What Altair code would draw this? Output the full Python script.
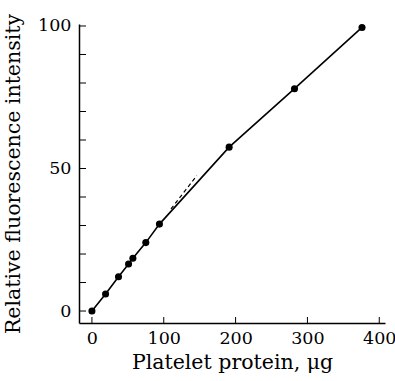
import altair as alt
import pandas as pd

protein = [0, 19, 37, 51, 57, 75, 94, 191, 282, 376]
intensity = [0, 6, 12, 16.5, 18.5, 24, 30.5, 57.5, 78, 99.5]
dash_x = [110, 146]
dash_y = [35.8, 47.5]
x_ticks = [0, 100, 200, 300, 400]
y_ticks = [0, 10, 20, 30, 40, 50, 60, 70, 80, 90, 100]
y_labels = [0, 50, 100]

W, H = 306, 299
xdom = [-18, 408]
ydom = [-4.2, 100.7]
FONT = "DejaVu Serif"

df = pd.DataFrame({"x": protein, "y": intensity})
dd = pd.DataFrame({"x": dash_x, "y": dash_y})
xt = pd.DataFrame({"v": x_ticks})
yt = pd.DataFrame({"v": y_ticks})

xs = alt.Scale(domain=xdom, nice=False, zero=False)
ys = alt.Scale(domain=ydom, nice=False, zero=False)

xax = alt.Axis(values=x_ticks, ticks=False, grid=False, domainColor="black", domainWidth=1.5,
               labelFont=FONT, labelFontSize=17.5, labelColor="black", labelPadding=6,
               title="Platelet protein, μg", titleFont=FONT, titleFontSize=20.5,
               titleFontWeight="normal", titleColor="black", titlePadding=6)
yax = alt.Axis(values=y_labels, ticks=False, grid=False, domainColor="black", domainWidth=1.5,
               labelFont=FONT, labelFontSize=17.5, labelColor="black", labelPadding=8,
               title="Relative fluorescence intensity", titleFont=FONT, titleFontSize=20.5,
               titleFontWeight="normal", titleColor="black", titlePadding=14)

line = alt.Chart(df).mark_line(color="black", strokeWidth=1.6).encode(
    x=alt.X("x:Q", scale=xs, axis=xax), y=alt.Y("y:Q", scale=ys, axis=yax))
pts = alt.Chart(df).mark_circle(color="black", size=50, opacity=1).encode(
    x=alt.X("x:Q", scale=xs), y=alt.Y("y:Q", scale=ys))
dash = alt.Chart(dd).mark_line(color="black", strokeWidth=1.2, strokeDash=[4, 3]).encode(
    x=alt.X("x:Q", scale=xs), y=alt.Y("y:Q", scale=ys))
ytk = alt.Chart(yt).mark_rule(color="black", strokeWidth=1).encode(
    x=alt.value(0), x2=alt.value(7), y=alt.Y("v:Q", scale=ys))
xtk = alt.Chart(xt).mark_rule(color="black", strokeWidth=1).encode(
    x=alt.X("v:Q", scale=xs), y=alt.value(H), y2=alt.value(H - 6))

chart = alt.layer(line, dash, pts, ytk, xtk).properties(
    width=W, height=H,
    autosize=alt.AutoSizeParams(type="none"),
    padding={"left": 79, "top": 24, "right": 10, "bottom": 58},
    background="white",
).configure_view(stroke=None)

chart.save("out.html", embed_options={"renderer": "svg", "actions": False})
